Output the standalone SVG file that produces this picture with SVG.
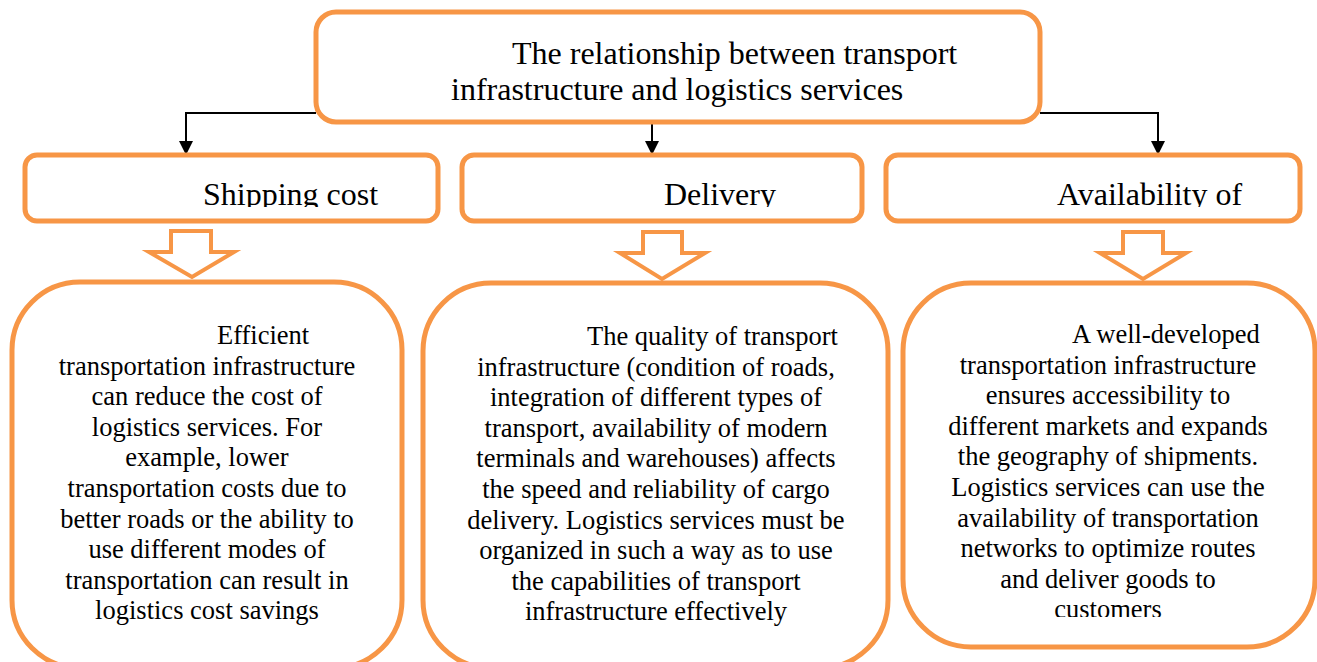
<svg xmlns="http://www.w3.org/2000/svg" width="1317" height="662" viewBox="0 0 1317 662">
<style>
.box{fill:#fff;stroke:#F79646;stroke-width:5}
.blk{fill:#fff;stroke:#F79646;stroke-width:4;stroke-linejoin:miter}
.conn{fill:none;stroke:#000;stroke-width:2}
.t{font-family:"Liberation Serif","Times New Roman",serif;fill:#000}
.h{font-size:32px}
.b{font-size:26.5px}
</style>
<defs>
<marker id="ah" markerUnits="userSpaceOnUse" markerWidth="14" markerHeight="16" refX="14" refY="7" orient="auto">
<path d="M0,0 L14,7 L0,14 Z" fill="#000"/>
</marker>
<clipPath id="c1"><rect x="25" y="155" width="413" height="52"/></clipPath>
<clipPath id="c2"><rect x="462" y="155" width="400" height="52"/></clipPath>
<clipPath id="c3"><rect x="886" y="155" width="414" height="52"/></clipPath>
<clipPath id="c6"><rect x="903" y="283" width="412" height="334"/></clipPath>
</defs>
<g id="connectors">
<path class="conn" d="M316,113 H186 V155" marker-end="url(#ah)"/>
<path class="conn" d="M652,124 V155" marker-end="url(#ah)"/>
<path class="conn" d="M1040,113 H1158 V155" marker-end="url(#ah)"/>
<polygon class="blk" points="171,231 211,231 211,252 234,252 192,277 149,252 171,252"/>
<polygon class="blk" points="643,232 682,232 682,253 705,253 662,279 620,253 643,253"/>
<polygon class="blk" points="1123,232 1163,232 1163,253 1186,253 1143,279 1100,253 1123,253"/>
</g>
<g id="title">
<rect class="box" x="316" y="12" width="724" height="110" rx="20"/>
<text class="t h" x="512" y="64">The relationship between transport</text>
<text class="t h" x="451" y="100">infrastructure and logistics services</text>
</g>
<g id="shipping-cost">
<rect class="box" x="25" y="155" width="413" height="66" rx="12"/>
<text class="t h" x="203" y="205" clip-path="url(#c1)">Shipping cost</text>
</g>
<g id="delivery">
<rect class="box" x="462" y="155" width="400" height="66" rx="12"/>
<text class="t h" x="664" y="205" clip-path="url(#c2)">Delivery</text>
</g>
<g id="availability">
<rect class="box" x="886" y="155" width="414" height="66" rx="12"/>
<text class="t h" x="1057" y="205" clip-path="url(#c3)">Availability of</text>
</g>
<g id="cost-detail">
<rect class="box" x="12" y="282" width="390" height="386" rx="68"/>
<text class="t b" x="217" y="344">Efficient</text>
<g text-anchor="middle">
<text class="t b" x="207" y="374.6">transportation infrastructure</text>
<text class="t b" x="207" y="405.2">can reduce the cost of</text>
<text class="t b" x="207" y="435.8">logistics services. For</text>
<text class="t b" x="207" y="466.4">example, lower</text>
<text class="t b" x="207" y="497">transportation costs due to</text>
<text class="t b" x="207" y="527.6">better roads or the ability to</text>
<text class="t b" x="207" y="558.2">use different modes of</text>
<text class="t b" x="207" y="588.8">transportation can result in</text>
<text class="t b" x="207" y="619.4">logistics cost savings</text>
</g>
</g>
<g id="delivery-detail">
<rect class="box" x="423" y="283" width="465" height="385" rx="68"/>
<text class="t b" x="587" y="345">The quality of transport</text>
<g text-anchor="middle">
<text class="t b" x="656" y="375.6">infrastructure (condition of roads,</text>
<text class="t b" x="656" y="406.2">integration of different types of</text>
<text class="t b" x="656" y="436.8">transport, availability of modern</text>
<text class="t b" x="656" y="467.4">terminals and warehouses) affects</text>
<text class="t b" x="656" y="498">the speed and reliability of cargo</text>
<text class="t b" x="656" y="528.6">delivery. Logistics services must be</text>
<text class="t b" x="656" y="559.2">organized in such a way as to use</text>
<text class="t b" x="656" y="589.8">the capabilities of transport</text>
<text class="t b" x="656" y="620.4">infrastructure effectively</text>
</g>
</g>
<g id="availability-detail">
<rect class="box" x="903" y="283" width="412" height="364" rx="68"/>
<g clip-path="url(#c6)">
<text class="t b" x="1072" y="343">A well-developed</text>
<g text-anchor="middle">
<text class="t b" x="1108" y="373.6">transportation infrastructure</text>
<text class="t b" x="1108" y="404.2">ensures accessibility to</text>
<text class="t b" x="1108" y="434.8">different markets and expands</text>
<text class="t b" x="1108" y="465.4">the geography of shipments.</text>
<text class="t b" x="1108" y="496">Logistics services can use the</text>
<text class="t b" x="1108" y="526.6">availability of transportation</text>
<text class="t b" x="1108" y="557.2">networks to optimize routes</text>
<text class="t b" x="1108" y="587.8">and deliver goods to</text>
<text class="t b" x="1108" y="618.4">customers</text>
</g>
</g>
</g>
</svg>
